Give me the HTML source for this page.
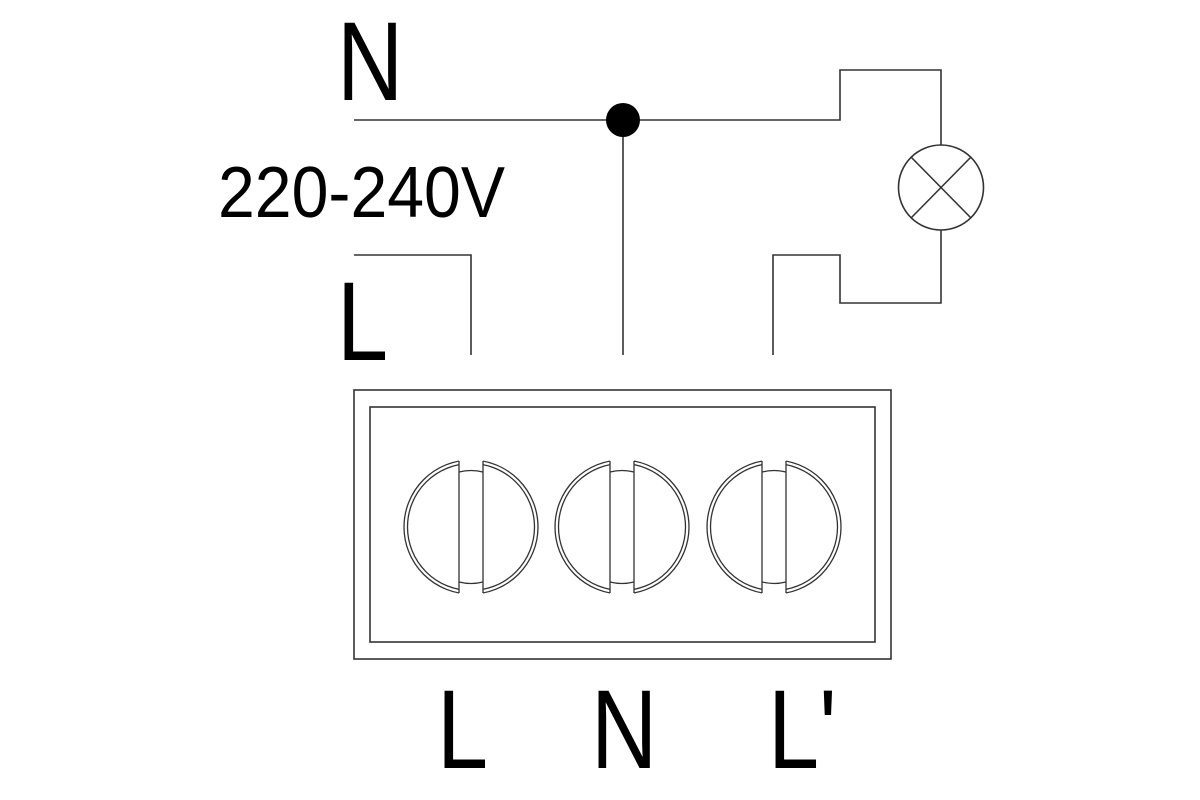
<!DOCTYPE html>
<html><head><style>
html,body{margin:0;padding:0;background:#fff;width:1200px;height:800px;overflow:hidden}
</style></head><body>
<svg width="1200" height="800" viewBox="0 0 1200 800" xmlns="http://www.w3.org/2000/svg">
<g fill="none" stroke="#333" stroke-width="1.6">
<polyline points="354,120 840,120 840,70 941,70 941,145"/>
<polyline points="941,230 941,303 840,303 840,255 773,255 773,355"/>
<line x1="623" y1="120" x2="623" y2="355"/>
<polyline points="354,255 471,255 471,355"/>
<circle cx="941" cy="187.5" r="42.5"/>
<line x1="911" y1="157" x2="971" y2="218"/>
<line x1="971" y1="157" x2="911" y2="218"/>
<rect x="354" y="390" width="537" height="269"/>
<rect x="370" y="407" width="505" height="235"/>
</g>
<circle cx="623" cy="120" r="17" fill="#000"/>
<defs>
<g id="s">
<circle cx="471" cy="527" r="63.5" fill="none" stroke="#333" stroke-width="1.3"/>
<circle cx="471" cy="527" r="67" fill="none" stroke="#333" stroke-width="1.3"/>
<rect x="459" y="455" width="24" height="145" fill="#fff"/>
<g fill="none" stroke="#333" stroke-width="1.3">
<line x1="459" y1="461" x2="459" y2="593"/><line x1="483" y1="461" x2="483" y2="593"/>
<path d="M459,472 Q471,469 483,472 M459,582 Q471,585 483,582"/>
</g>
</g>
</defs>
<use href="#s"/>
<use href="#s" x="151"/>
<use href="#s" x="303"/>
<g font-family="Liberation Sans, sans-serif" fill="#000">
<text x="337" y="100" font-size="112" transform="translate(337,0) scale(0.82,1) translate(-337,0)">N</text>
<text x="337" y="360" font-size="112" transform="translate(337,0) scale(0.82,1) translate(-337,0)">L</text>
<text x="218" y="217" font-size="72" textLength="287" lengthAdjust="spacingAndGlyphs">220-240V</text>
<text x="437" y="768" font-size="112" transform="translate(437,0) scale(0.82,1) translate(-437,0)">L</text>
<text x="591" y="768" font-size="112" transform="translate(591,0) scale(0.82,1) translate(-591,0)">N</text>
<text x="768" y="768" font-size="112" transform="translate(768,0) scale(0.82,1) translate(-768,0)">L'</text>
</g>
</svg>
</body></html>
